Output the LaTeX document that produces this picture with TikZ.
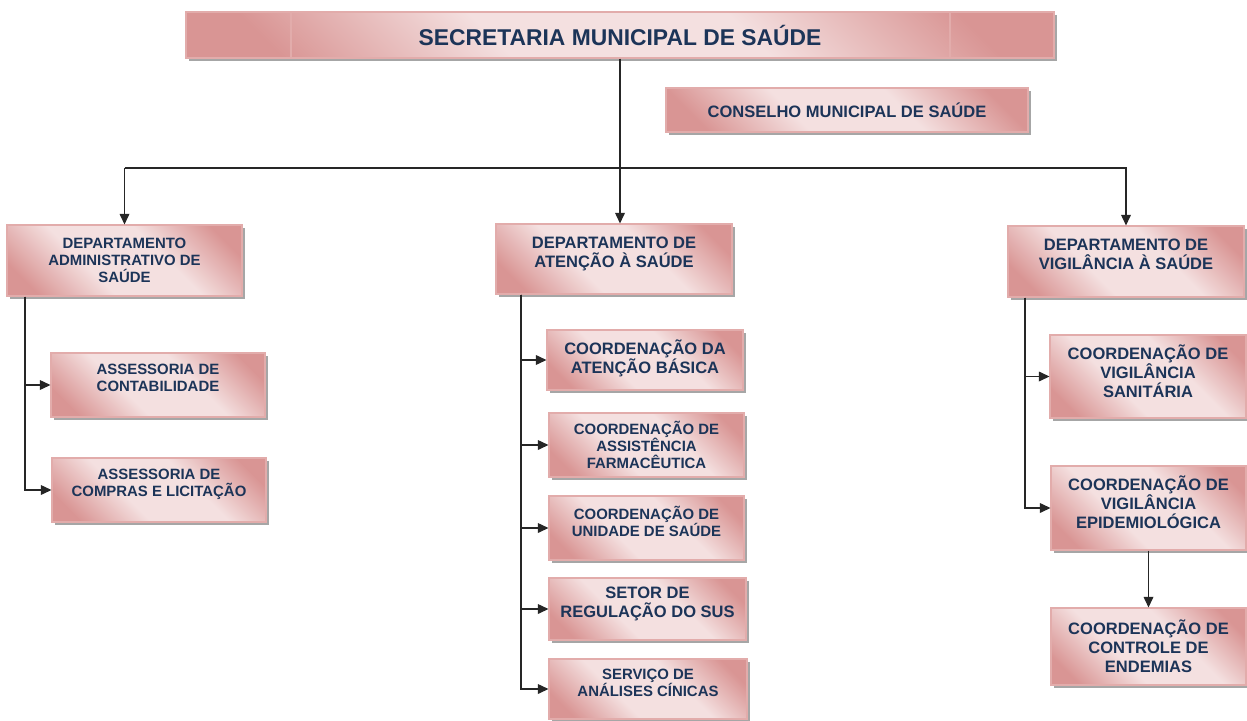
\documentclass[tikz,border=0pt]{standalone}
\usepackage{fontspec}
\setmainfont{Liberation Sans}
\usetikzlibrary{arrows.meta,shadows}
\definecolor{rosa}{RGB}{217,149,148}
\definecolor{rosaclaro}{RGB}{244,224,224}
\definecolor{rosaborda}{RGB}{226,172,171}
\definecolor{azulescuro}{RGB}{28,52,88}
\pgfdeclareverticalshading{caixarosa}{100bp}{color(0bp)=(rosa); color(22bp)=(rosa);
  color(40bp)=(rosaclaro); color(60bp)=(rosaclaro); color(78bp)=(rosa); color(100bp)=(rosa)}

\tikzset{
  caixa/.style={draw=rosaborda, line width=0.6pt, shading=caixarosa, shading angle=-45,
    drop shadow={shadow xshift=1.5pt, shadow yshift=-1.5pt, fill=black, opacity=0.35},
    text=azulescuro, align=center, inner sep=0pt},
  tam/.style 2 args={minimum width=#1*0.02cm, minimum height=#2*0.02cm},
  grande/.style={font={\fontsize{9.4}{10.8}\selectfont\bfseries}},
  pequena/.style={font={\fontsize{8.5}{9.6}\selectfont\bfseries}},
  sobe/.style={execute at end node={\rule[-#1]{0pt}{#1}}},
  desce/.style={execute at begin node={\rule{0pt}{#1}}},
  ligacao/.style={draw=black!85, line width=0.7pt}
}

\begin{document}
\begin{tikzpicture}[x=0.02cm, y=-0.02cm, >={Triangle[length=6pt,width=5.5pt]}]
\useasboundingbox (0,0) rectangle (1247,720);

% topo
\node[caixa, tam={868}{46}, font={\fontsize{13}{15}\selectfont\bfseries}, desce=9pt] (sec) at (620,35) {SECRETARIA MUNICIPAL DE SAÚDE};
\draw [rosaborda, line width=0.6pt] (291,12) -- (291,58);
\draw [rosaborda, line width=0.6pt] (950,12) -- (950,58);
\node[caixa, grande, tam={362}{44}] (cons) at (847,110) {CONSELHO MUNICIPAL DE SAÚDE};

% departamentos
\node[caixa, pequena, tam={235}{71}] (dadm) at (124.5,260.5) {DEPARTAMENTO\\ADMINISTRATIVO DE\\SAÚDE};
\node[caixa, grande, tam={236}{70}, sobe=8pt] (date) at (614,259) {DEPARTAMENTO DE\\ATENÇÃO À SAÚDE};
\node[caixa, grande, tam={236}{71}, sobe=8pt] (dvig) at (1126,261.5) {DEPARTAMENTO DE\\VIGILÂNCIA À SAÚDE};

% administrativo
\node[caixa, pequena, tam={214}{64}, sobe=8pt] (acont) at (158,385) {ASSESSORIA DE\\CONTABILIDADE};
\node[caixa, pequena, tam={214}{64}, sobe=8pt] (acomp) at (159,490) {ASSESSORIA DE\\COMPRAS E LICITAÇÃO};

% atencao
\node[caixa, grande, tam={196}{60}, sobe=4pt] (cbas) at (645,360) {COORDENAÇÃO DA\\ATENÇÃO BÁSICA};
\node[caixa, pequena, tam={195}{64}] (cfarm) at (646.5,445) {COORDENAÇÃO DE\\ASSISTÊNCIA\\FARMACÊUTICA};
\node[caixa, pequena, tam={195}{64}, sobe=8pt] (cuni) at (646.5,528) {COORDENAÇÃO DE\\UNIDADE DE SAÚDE};
\node[caixa, grande, tam={197}{62}, sobe=8pt] (sreg) at (647.5,609) {SETOR DE\\REGULAÇÃO DO SUS};
\node[caixa, pequena, tam={198}{60}, sobe=7pt] (sana) at (648,689) {SERVIÇO DE\\ANÁLISES CÍNICAS};

% vigilancia
\node[caixa, grande, tam={196}{83}, sobe=6pt] (cvsan) at (1148,376.5) {COORDENAÇÃO DE\\VIGILÂNCIA\\SANITÁRIA};
\node[caixa, grande, tam={195}{84}, sobe=7pt] (cvepi) at (1148.5,508) {COORDENAÇÃO DE\\VIGILÂNCIA\\EPIDEMIOLÓGICA};
\node[caixa, grande, tam={195}{77}, desce=4pt] (cend) at (1148.5,646.5) {COORDENAÇÃO DE\\CONTROLE DE\\ENDEMIAS};

% ligacoes
\coordinate (nivel) at (0,168);
\coordinate (xadm) at (25,0);
\coordinate (xate) at (521,0);
\coordinate (xvig) at (1025,0);

\draw [ligacao,->] (sec.south) -- (sec.south |- date.north);
\draw [ligacao,->] (nivel -| dadm.north) -- (dadm.north);
\draw [ligacao,->] (nivel -| dadm.north) -- (nivel -| dvig.north) -- (dvig.north);

\foreach \n in {acont,acomp}
  \draw [ligacao,->] (dadm.south -| xadm) |- (\n.west);
\foreach \n in {cbas,cfarm,cuni,sreg,sana}
  \draw [ligacao,->] (date.south -| xate) |- (\n.west);
\foreach \n in {cvsan,cvepi}
  \draw [ligacao,->] (dvig.south -| xvig) |- (\n.west);
\draw [ligacao,->] (cvepi.south) -- (cend.north);

\end{tikzpicture}
\end{document}
